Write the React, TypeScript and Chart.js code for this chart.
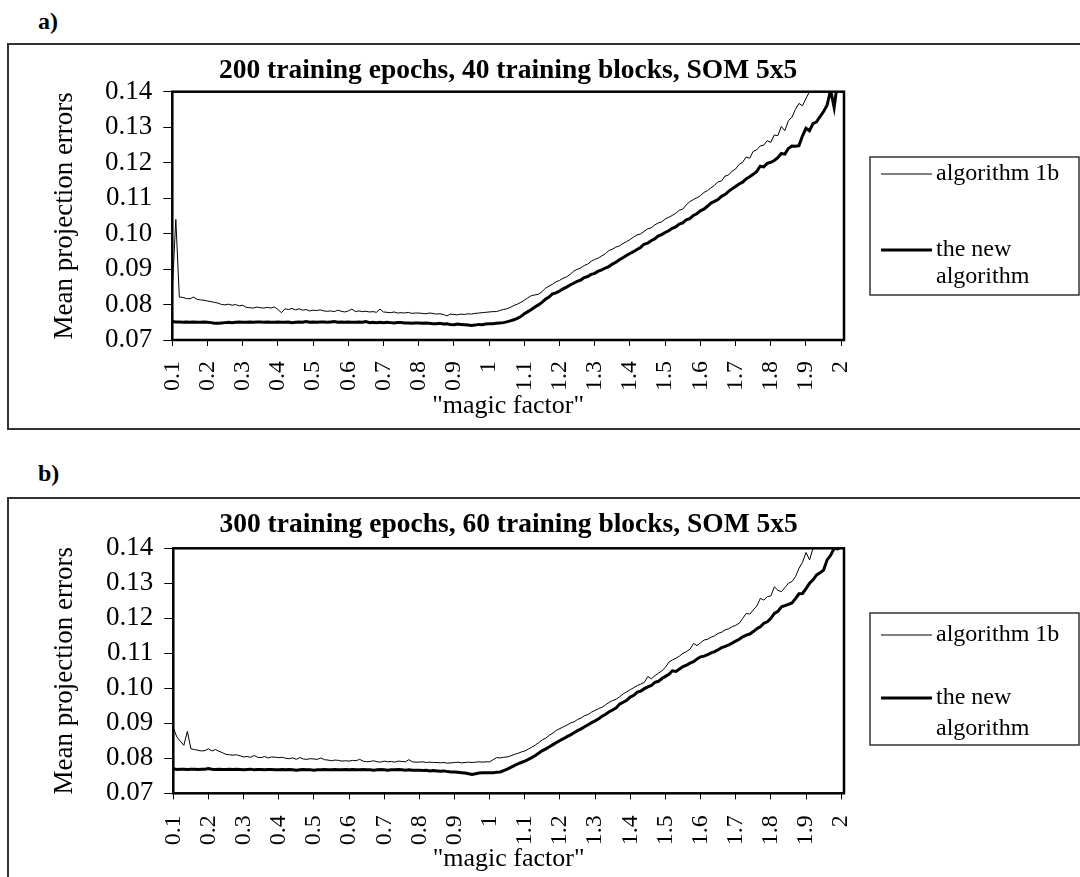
import React, { useEffect, useRef } from "react";
import { Chart, registerables } from "chart.js";

Chart.register(...registerables);

const FONT = "'Liberation Serif', 'Times New Roman', Times, serif";

const MAGIC_FACTOR = [
  0.10, 0.11, 0.12, 0.13, 0.14, 0.15, 0.16, 0.17, 0.18, 0.19,
  0.20, 0.21, 0.22, 0.23, 0.24, 0.25, 0.26, 0.27, 0.28, 0.29,
  0.30, 0.31, 0.32, 0.33, 0.34, 0.35, 0.36, 0.37, 0.38, 0.39,
  0.40, 0.41, 0.42, 0.43, 0.44, 0.45, 0.46, 0.47, 0.48, 0.49,
  0.50, 0.51, 0.52, 0.53, 0.54, 0.55, 0.56, 0.57, 0.58, 0.59,
  0.60, 0.61, 0.62, 0.63, 0.64, 0.65, 0.66, 0.67, 0.68, 0.69,
  0.70, 0.71, 0.72, 0.73, 0.74, 0.75, 0.76, 0.77, 0.78, 0.79,
  0.80, 0.81, 0.82, 0.83, 0.84, 0.85, 0.86, 0.87, 0.88, 0.89,
  0.90, 0.91, 0.92, 0.93, 0.94, 0.95, 0.96, 0.97, 0.98, 0.99,
  1.00, 1.01, 1.02, 1.03, 1.04, 1.05, 1.06, 1.07, 1.08, 1.09,
  1.10, 1.11, 1.12, 1.13, 1.14, 1.15, 1.16, 1.17, 1.18, 1.19,
  1.20, 1.21, 1.22, 1.23, 1.24, 1.25, 1.26, 1.27, 1.28, 1.29,
  1.30, 1.31, 1.32, 1.33, 1.34, 1.35, 1.36, 1.37, 1.38, 1.39,
  1.40, 1.41, 1.42, 1.43, 1.44, 1.45, 1.46, 1.47, 1.48, 1.49,
  1.50, 1.51, 1.52, 1.53, 1.54, 1.55, 1.56, 1.57, 1.58, 1.59,
  1.60, 1.61, 1.62, 1.63, 1.64, 1.65, 1.66, 1.67, 1.68, 1.69,
  1.70, 1.71, 1.72, 1.73, 1.74, 1.75, 1.76, 1.77, 1.78, 1.79,
  1.80, 1.81, 1.82, 1.83, 1.84, 1.85, 1.86, 1.87, 1.88, 1.89,
  1.90, 1.91, 1.92, 1.93, 1.94, 1.95, 1.96, 1.97, 1.98, 1.99,
  2.00,
];

// Panel a) 200 epochs
const A_ALGORITHM_1B = [
  0.0840, 0.1040, 0.0821, 0.0820, 0.0817, 0.0816, 0.0821, 0.0815, 0.0813, 0.0812,
  0.0810, 0.0808, 0.0806, 0.0804, 0.0800, 0.0799, 0.0801, 0.0798, 0.0800, 0.0796,
  0.0798, 0.0792, 0.0791, 0.0790, 0.0793, 0.0791, 0.0790, 0.0792, 0.0790, 0.0793,
  0.0786, 0.0777, 0.0788, 0.0786, 0.0789, 0.0785, 0.0788, 0.0784, 0.0786, 0.0782,
  0.0784, 0.0783, 0.0785, 0.0782, 0.0781, 0.0782, 0.0780, 0.0784, 0.0781, 0.0779,
  0.0782, 0.0787, 0.0780, 0.0782, 0.0780, 0.0781, 0.0779, 0.0780, 0.0778, 0.0787,
  0.0779, 0.0778, 0.0777, 0.0779, 0.0776, 0.0777, 0.0776, 0.0778, 0.0775, 0.0776,
  0.0776, 0.0775, 0.0774, 0.0776, 0.0775, 0.0773, 0.0774, 0.0772, 0.0768, 0.0773,
  0.0772, 0.0771, 0.0773, 0.0772, 0.0774, 0.0773, 0.0775, 0.0776, 0.0777, 0.0778,
  0.0779, 0.0780, 0.0780, 0.0783, 0.0786, 0.0788, 0.0792, 0.0797, 0.0801, 0.0806,
  0.0812, 0.0819, 0.0825, 0.0827, 0.0829, 0.0836, 0.0846, 0.0852, 0.0857, 0.0864,
  0.0868, 0.0874, 0.0878, 0.0885, 0.0894, 0.0899, 0.0903, 0.0910, 0.0914, 0.0922,
  0.0927, 0.0931, 0.0937, 0.0943, 0.0952, 0.0956, 0.0962, 0.0965, 0.0972, 0.0977,
  0.0983, 0.0990, 0.0996, 0.0999, 0.1006, 0.1013, 0.1016, 0.1024, 0.1030, 0.1033,
  0.1041, 0.1046, 0.1051, 0.1057, 0.1066, 0.1069, 0.1081, 0.1090, 0.1096, 0.1101,
  0.1107, 0.1116, 0.1121, 0.1129, 0.1136, 0.1146, 0.1148, 0.1162, 0.1165, 0.1176,
  0.1182, 0.1195, 0.1201, 0.1216, 0.1212, 0.1232, 0.1236, 0.1247, 0.1249, 0.1262,
  0.1257, 0.1278, 0.1276, 0.1302, 0.1290, 0.1318, 0.1328, 0.1350, 0.1367, 0.1360,
  0.1381, 0.1400, 0.1425, 0.1440, 0.1460, 0.1480, 0.1500, 0.1520, 0.1540, 0.1560,
  0.1580,
];

const A_NEW_ALGORITHM = [
  0.0752, 0.0751, 0.0751, 0.0750, 0.0751, 0.0750, 0.0751, 0.0750, 0.0750, 0.0751,
  0.0750, 0.0749, 0.0747, 0.0747, 0.0748, 0.0749, 0.0750, 0.0749, 0.0750, 0.0751,
  0.0750, 0.0750, 0.0751, 0.0750, 0.0751, 0.0751, 0.0750, 0.0751, 0.0750, 0.0750,
  0.0751, 0.0750, 0.0750, 0.0751, 0.0749, 0.0750, 0.0751, 0.0750, 0.0752, 0.0750,
  0.0751, 0.0750, 0.0751, 0.0751, 0.0750, 0.0751, 0.0752, 0.0750, 0.0751, 0.0750,
  0.0751, 0.0750, 0.0750, 0.0751, 0.0750, 0.0752, 0.0749, 0.0750, 0.0749, 0.0750,
  0.0749, 0.0750, 0.0749, 0.0748, 0.0749, 0.0749, 0.0748, 0.0748, 0.0747, 0.0748,
  0.0748, 0.0747, 0.0748, 0.0747, 0.0746, 0.0746, 0.0747, 0.0745, 0.0746, 0.0744,
  0.0743, 0.0745, 0.0744, 0.0743, 0.0742, 0.0741, 0.0742, 0.0744, 0.0743, 0.0745,
  0.0746, 0.0746, 0.0747, 0.0748, 0.0749, 0.0751, 0.0754, 0.0757, 0.0761, 0.0766,
  0.0774, 0.0780, 0.0786, 0.0793, 0.0799, 0.0806, 0.0815, 0.0821, 0.0830, 0.0833,
  0.0838, 0.0844, 0.0849, 0.0855, 0.0860, 0.0865, 0.0869, 0.0876, 0.0879, 0.0885,
  0.0888, 0.0894, 0.0898, 0.0903, 0.0907, 0.0914, 0.0919, 0.0926, 0.0932, 0.0938,
  0.0944, 0.0949, 0.0955, 0.0961, 0.0970, 0.0973, 0.0980, 0.0985, 0.0993, 0.0997,
  0.1003, 0.1008, 0.1015, 0.1019, 0.1027, 0.1030, 0.1039, 0.1042, 0.1051, 0.1056,
  0.1064, 0.1069, 0.1077, 0.1086, 0.1091, 0.1096, 0.1105, 0.1110, 0.1119, 0.1126,
  0.1133, 0.1140, 0.1145, 0.1154, 0.1160, 0.1167, 0.1175, 0.1190, 0.1188, 0.1198,
  0.1201, 0.1206, 0.1214, 0.1226, 0.1224, 0.1240, 0.1247, 0.1246, 0.1248, 0.1275,
  0.1297, 0.1290, 0.1310, 0.1315, 0.1330, 0.1344, 0.1362, 0.1405, 0.1355, 0.1430,
  0.1470,
];

// Panel b) 300 epochs
const B_ALGORITHM_1B = [
  0.0887, 0.0861, 0.0849, 0.0837, 0.0877, 0.0827, 0.0825, 0.0823, 0.0821, 0.0822,
  0.0827, 0.0821, 0.0825, 0.0820, 0.0816, 0.0811, 0.0810, 0.0809, 0.0810, 0.0807,
  0.0804, 0.0805, 0.0803, 0.0808, 0.0803, 0.0802, 0.0805, 0.0801, 0.0804, 0.0803,
  0.0802, 0.0803, 0.0800, 0.0799, 0.0801, 0.0797, 0.0802, 0.0798, 0.0797, 0.0799,
  0.0798, 0.0797, 0.0801, 0.0796, 0.0795, 0.0793, 0.0795, 0.0794, 0.0792, 0.0793,
  0.0792, 0.0794, 0.0793, 0.0797, 0.0792, 0.0790, 0.0791, 0.0793, 0.0790, 0.0789,
  0.0792, 0.0790, 0.0791, 0.0789, 0.0792, 0.0791, 0.0790, 0.0796, 0.0790, 0.0789,
  0.0789, 0.0790, 0.0788, 0.0789, 0.0788, 0.0788, 0.0787, 0.0788, 0.0786, 0.0787,
  0.0788, 0.0789, 0.0787, 0.0788, 0.0789, 0.0788, 0.0789, 0.0790, 0.0789, 0.0790,
  0.0790, 0.0796, 0.0802, 0.0801, 0.0803, 0.0804, 0.0807, 0.0811, 0.0814, 0.0818,
  0.0821, 0.0826, 0.0832, 0.0838, 0.0845, 0.0853, 0.0858, 0.0866, 0.0872, 0.0880,
  0.0885, 0.0890, 0.0895, 0.0901, 0.0904, 0.0911, 0.0915, 0.0922, 0.0925, 0.0932,
  0.0937, 0.0942, 0.0946, 0.0953, 0.0960, 0.0965, 0.0969, 0.0976, 0.0984, 0.0990,
  0.0996, 0.1002, 0.1008, 0.1012, 0.1017, 0.1034, 0.1027, 0.1036, 0.1043, 0.1050,
  0.1060, 0.1075, 0.1081, 0.1086, 0.1092, 0.1100, 0.1105, 0.1112, 0.1128, 0.1122,
  0.1130, 0.1138, 0.1140, 0.1146, 0.1150, 0.1157, 0.1160, 0.1167, 0.1170, 0.1176,
  0.1180, 0.1186, 0.1200, 0.1214, 0.1212, 0.1224, 0.1235, 0.1257, 0.1252, 0.1262,
  0.1264, 0.1290, 0.1280, 0.1276, 0.1288, 0.1300, 0.1305, 0.1319, 0.1343, 0.1360,
  0.1388, 0.1367, 0.1400, 0.1420, 0.1435, 0.1450, 0.1465, 0.1480, 0.1495, 0.1510,
  0.1525,
];

const B_NEW_ALGORITHM = [
  0.0770, 0.0768, 0.0769, 0.0769, 0.0768, 0.0769, 0.0769, 0.0768, 0.0769, 0.0769,
  0.0771, 0.0769, 0.0768, 0.0769, 0.0768, 0.0768, 0.0769, 0.0768, 0.0769, 0.0768,
  0.0767, 0.0768, 0.0769, 0.0767, 0.0768, 0.0768, 0.0767, 0.0768, 0.0768, 0.0767,
  0.0767, 0.0768, 0.0767, 0.0768, 0.0767, 0.0766, 0.0767, 0.0768, 0.0767, 0.0767,
  0.0766, 0.0767, 0.0767, 0.0768, 0.0767, 0.0767, 0.0768, 0.0767, 0.0767, 0.0768,
  0.0767, 0.0768, 0.0767, 0.0767, 0.0768, 0.0767, 0.0767, 0.0766, 0.0767, 0.0768,
  0.0767, 0.0766, 0.0767, 0.0767, 0.0768, 0.0767, 0.0766, 0.0767, 0.0766, 0.0766,
  0.0766, 0.0765, 0.0766, 0.0764, 0.0765, 0.0764, 0.0763, 0.0764, 0.0762, 0.0761,
  0.0761, 0.0760, 0.0759, 0.0758, 0.0756, 0.0754, 0.0756, 0.0758, 0.0759, 0.0759,
  0.0759, 0.0759, 0.0760, 0.0761, 0.0765, 0.0769, 0.0774, 0.0779, 0.0784, 0.0788,
  0.0792, 0.0797, 0.0802, 0.0808, 0.0815, 0.0822, 0.0827, 0.0833, 0.0839, 0.0845,
  0.0851, 0.0856, 0.0862, 0.0867, 0.0873, 0.0879, 0.0884, 0.0890, 0.0896, 0.0902,
  0.0907, 0.0913, 0.0920, 0.0926, 0.0933, 0.0938, 0.0944, 0.0955, 0.0960, 0.0966,
  0.0975, 0.0980, 0.0989, 0.0992, 0.0999, 0.1004, 0.1008, 0.1017, 0.1020, 0.1028,
  0.1034, 0.1040, 0.1050, 0.1048, 0.1055, 0.1062, 0.1066, 0.1072, 0.1076, 0.1084,
  0.1090, 0.1092, 0.1096, 0.1101, 0.1105, 0.1110, 0.1116, 0.1120, 0.1124, 0.1129,
  0.1135, 0.1140, 0.1147, 0.1152, 0.1155, 0.1162, 0.1170, 0.1176, 0.1186, 0.1190,
  0.1200, 0.1214, 0.1220, 0.1233, 0.1236, 0.1240, 0.1244, 0.1256, 0.1270, 0.1271,
  0.1285, 0.1300, 0.1310, 0.1324, 0.1330, 0.1338, 0.1367, 0.1380, 0.1400, 0.1398,
  0.1405,
];

const Y_TICKS = [0.07, 0.08, 0.09, 0.1, 0.11, 0.12, 0.13, 0.14];
const Y_TICK_LABELS = ["0.07", "0.08", "0.09", "0.10", "0.11", "0.12", "0.13", "0.14"];
const X_TICKS = [0.1, 0.2, 0.3, 0.4, 0.5, 0.6, 0.7, 0.8, 0.9, 1, 1.1, 1.2, 1.3, 1.4, 1.5, 1.6, 1.7, 1.8, 1.9, 2];
const X_TICK_LABELS = ["0.1", "0.2", "0.3", "0.4", "0.5", "0.6", "0.7", "0.8", "0.9", "1", "1.1", "1.2", "1.3", "1.4", "1.5", "1.6", "1.7", "1.8", "1.9", "2"];

const SERIES_NAMES = ["algorithm 1b", "the new algorithm"];
const LEGEND_LINES = [["algorithm 1b"], ["the new", "algorithm"]];
const TITLE_A = "200 training epochs, 40 training blocks, SOM 5x5";
const TITLE_B = "300 training epochs, 60 training blocks, SOM 5x5";
const Y_TITLE = "Mean projection errors";
const X_TITLE = '"magic factor"';

type Spec = {
  top: number;
  height: number;
  plotLeft: number;
  plotRight: number;
  plotTop: number;
  plotBottom: number;
  titleBaseline: number;
  title: string;
  thin: number[];
  thick: number[];
  xTickPad: number;
  xTitlePad: number;
  legend: { left: number; right: number; top: number; bottom: number; y1: number; y2: number; y3: number };
};

const CANVAS_W = 1072;

function Panel({ spec }: { spec: Spec }) {
  const ref = useRef<HTMLCanvasElement | null>(null);

  useEffect(() => {
    const canvas = ref.current;
    if (!canvas) return;

    const decor = {
      id: "decor",
      afterDatasetsDraw(chart: any) {
        const { ctx, chartArea: a } = chart;
        ctx.save();
        ctx.strokeStyle = "#000";
        ctx.lineWidth = 2.5;
        ctx.strokeRect(a.left, a.top, a.right - a.left, a.bottom - a.top);
        ctx.restore();
      },
      afterDraw(chart: any) {
        const { ctx, chartArea: a } = chart;
        ctx.save();
        // title
        ctx.fillStyle = "#000";
        ctx.font = `bold 27.5px ${FONT}`;
        ctx.textAlign = "center";
        ctx.textBaseline = "alphabetic";
        ctx.fillText(spec.title, (a.left + a.right) / 2, spec.titleBaseline);

        // legend
        const lg = spec.legend;
        ctx.strokeStyle = "#333";
        ctx.lineWidth = 1.5;
        ctx.strokeRect(lg.left, lg.top, lg.right - lg.left, lg.bottom - lg.top);
        const ds = chart.data.datasets;
        const sx1 = lg.left + 11;
        const sx2 = lg.left + 62;
        const tx = lg.left + 66;
        const ys = [[lg.y1], [lg.y2, lg.y3]];
        ctx.font = `24px ${FONT}`;
        ctx.textAlign = "left";
        ctx.textBaseline = "middle";
        for (let i = 0; i < ds.length; i++) {
          ctx.strokeStyle = ds[i].borderColor;
          ctx.lineWidth = ds[i].borderWidth;
          ctx.beginPath();
          ctx.moveTo(sx1, ys[i][0]);
          ctx.lineTo(sx2, ys[i][0]);
          ctx.stroke();
          LEGEND_LINES[i].forEach((t, j) => ctx.fillText(t, tx, ys[i][j]));
        }
        ctx.restore();
      },
    };

    const chart = new Chart(canvas, {
      type: "line",
      data: {
        datasets: [
          {
            label: SERIES_NAMES[0],
            data: MAGIC_FACTOR.map((x, i) => ({ x, y: spec.thin[i] })),
            borderColor: "#000",
            borderWidth: 1,
            pointRadius: 0,
            tension: 0,
            clip: 0,
          },
          {
            label: SERIES_NAMES[1],
            data: MAGIC_FACTOR.map((x, i) => ({ x, y: spec.thick[i] })),
            borderColor: "#000",
            borderWidth: 3,
            pointRadius: 0,
            tension: 0,
            clip: 0,
          },
        ],
      },
      options: {
        animation: false,
        responsive: false,
        devicePixelRatio: 1,
        layout: {
          padding: { top: spec.plotTop, right: CANVAS_W - spec.plotRight, left: 0, bottom: 0 },
        },
        plugins: {
          legend: { display: false },
          title: { display: false },
          tooltip: { enabled: false },
        },
        scales: {
          x: {
            type: "linear",
            min: 0.1,
            max: 2.008,
            afterBuildTicks: (s: any) => {
              s.ticks = X_TICKS.map((v) => ({ value: v }));
            },
            afterFit: (s: any) => {
              s.height = spec.height - spec.plotBottom;
            },
            grid: {
              drawOnChartArea: false,
              drawTicks: true,
              tickLength: 6,
              tickColor: "#000",
              tickWidth: 1,
              color: "#000",
            },
            border: { display: false },
            ticks: {
              autoSkip: false,
              minRotation: 90,
              maxRotation: 90,
              padding: spec.xTickPad,
              color: "#000",
              font: { family: FONT, size: 24 },
              callback: (_v: any, i: number) => X_TICK_LABELS[i],
            },
            title: {
              display: true,
              text: X_TITLE,
              color: "#000",
              font: { family: FONT, size: 26, lineHeight: 1.2 },
              padding: { top: 0, bottom: spec.xTitlePad },
            },
          },
          y: {
            type: "linear",
            min: 0.07,
            max: 0.14,
            afterBuildTicks: (s: any) => {
              s.ticks = Y_TICKS.map((v) => ({ value: v }));
            },
            afterFit: (s: any) => {
              s.width = spec.plotLeft;
            },
            grid: {
              drawOnChartArea: false,
              drawTicks: true,
              tickLength: 9,
              tickColor: "#000",
              tickWidth: 1,
              color: "#000",
            },
            border: { display: false },
            ticks: {
              autoSkip: false,
              padding: 11,
              color: "#000",
              font: { family: FONT, size: 27 },
              callback: (_v: any, i: number) => Y_TICK_LABELS[i],
            },
            title: {
              display: true,
              text: Y_TITLE,
              color: "#000",
              font: { family: FONT, size: 27, lineHeight: 1.2 },
              padding: { top: 41, bottom: 0 },
            },
          },
        },
      },
      plugins: [decor],
    } as any);

    return () => chart.destroy();
  }, [spec]);

  return (
    <canvas
      ref={ref}
      width={CANVAS_W}
      height={spec.height}
      style={{ position: "absolute", left: 8, top: spec.top, width: CANVAS_W, height: spec.height }}
    />
  );
}

const SPEC_A: Spec = {
  top: 44,
  height: 384,
  plotLeft: 164.3,
  plotRight: 836,
  plotTop: 47.7,
  plotBottom: 296,
  titleBaseline: 33.7,
  title: TITLE_A,
  thin: A_ALGORITHM_1B,
  thick: A_NEW_ALGORITHM,
  xTickPad: 15,
  xTitlePad: 6,
  legend: { left: 862, right: 1071, top: 113, bottom: 251, y1: 130, y2: 206, y3: 233 },
};

const SPEC_B: Spec = {
  top: 497,
  height: 380,
  plotLeft: 165.3,
  plotRight: 836,
  plotTop: 51.3,
  plotBottom: 296.3,
  titleBaseline: 34.7,
  title: TITLE_B,
  thin: B_ALGORITHM_1B,
  thick: B_NEW_ALGORITHM,
  xTickPad: 16,
  xTitlePad: 2.4,
  legend: { left: 862, right: 1071, top: 116, bottom: 248, y1: 138, y2: 201, y3: 232 },
};

export default function App() {
  const labelStyle: React.CSSProperties = {
    position: "absolute",
    left: 38,
    fontFamily: FONT,
    fontWeight: "bold",
    fontSize: 24,
    lineHeight: "24px",
    color: "#000",
  };
  const boxStyle: React.CSSProperties = {
    position: "absolute",
    left: 7,
    width: 1100,
    border: "2px solid #333",
    boxSizing: "border-box",
  };
  return (
    <div
      style={{
        position: "absolute",
        left: 0,
        top: 0,
        width: 1080,
        height: 877,
        overflow: "hidden",
        background: "#fff",
      }}
    >
      <div style={{ ...labelStyle, top: 9 }}>a)</div>
      <div style={{ ...boxStyle, top: 43, height: 387 }} />
      <Panel spec={SPEC_A} />
      <div style={{ ...labelStyle, top: 461 }}>b)</div>
      <div style={{ ...boxStyle, top: 497, height: 500 }} />
      <Panel spec={SPEC_B} />
    </div>
  );
}
